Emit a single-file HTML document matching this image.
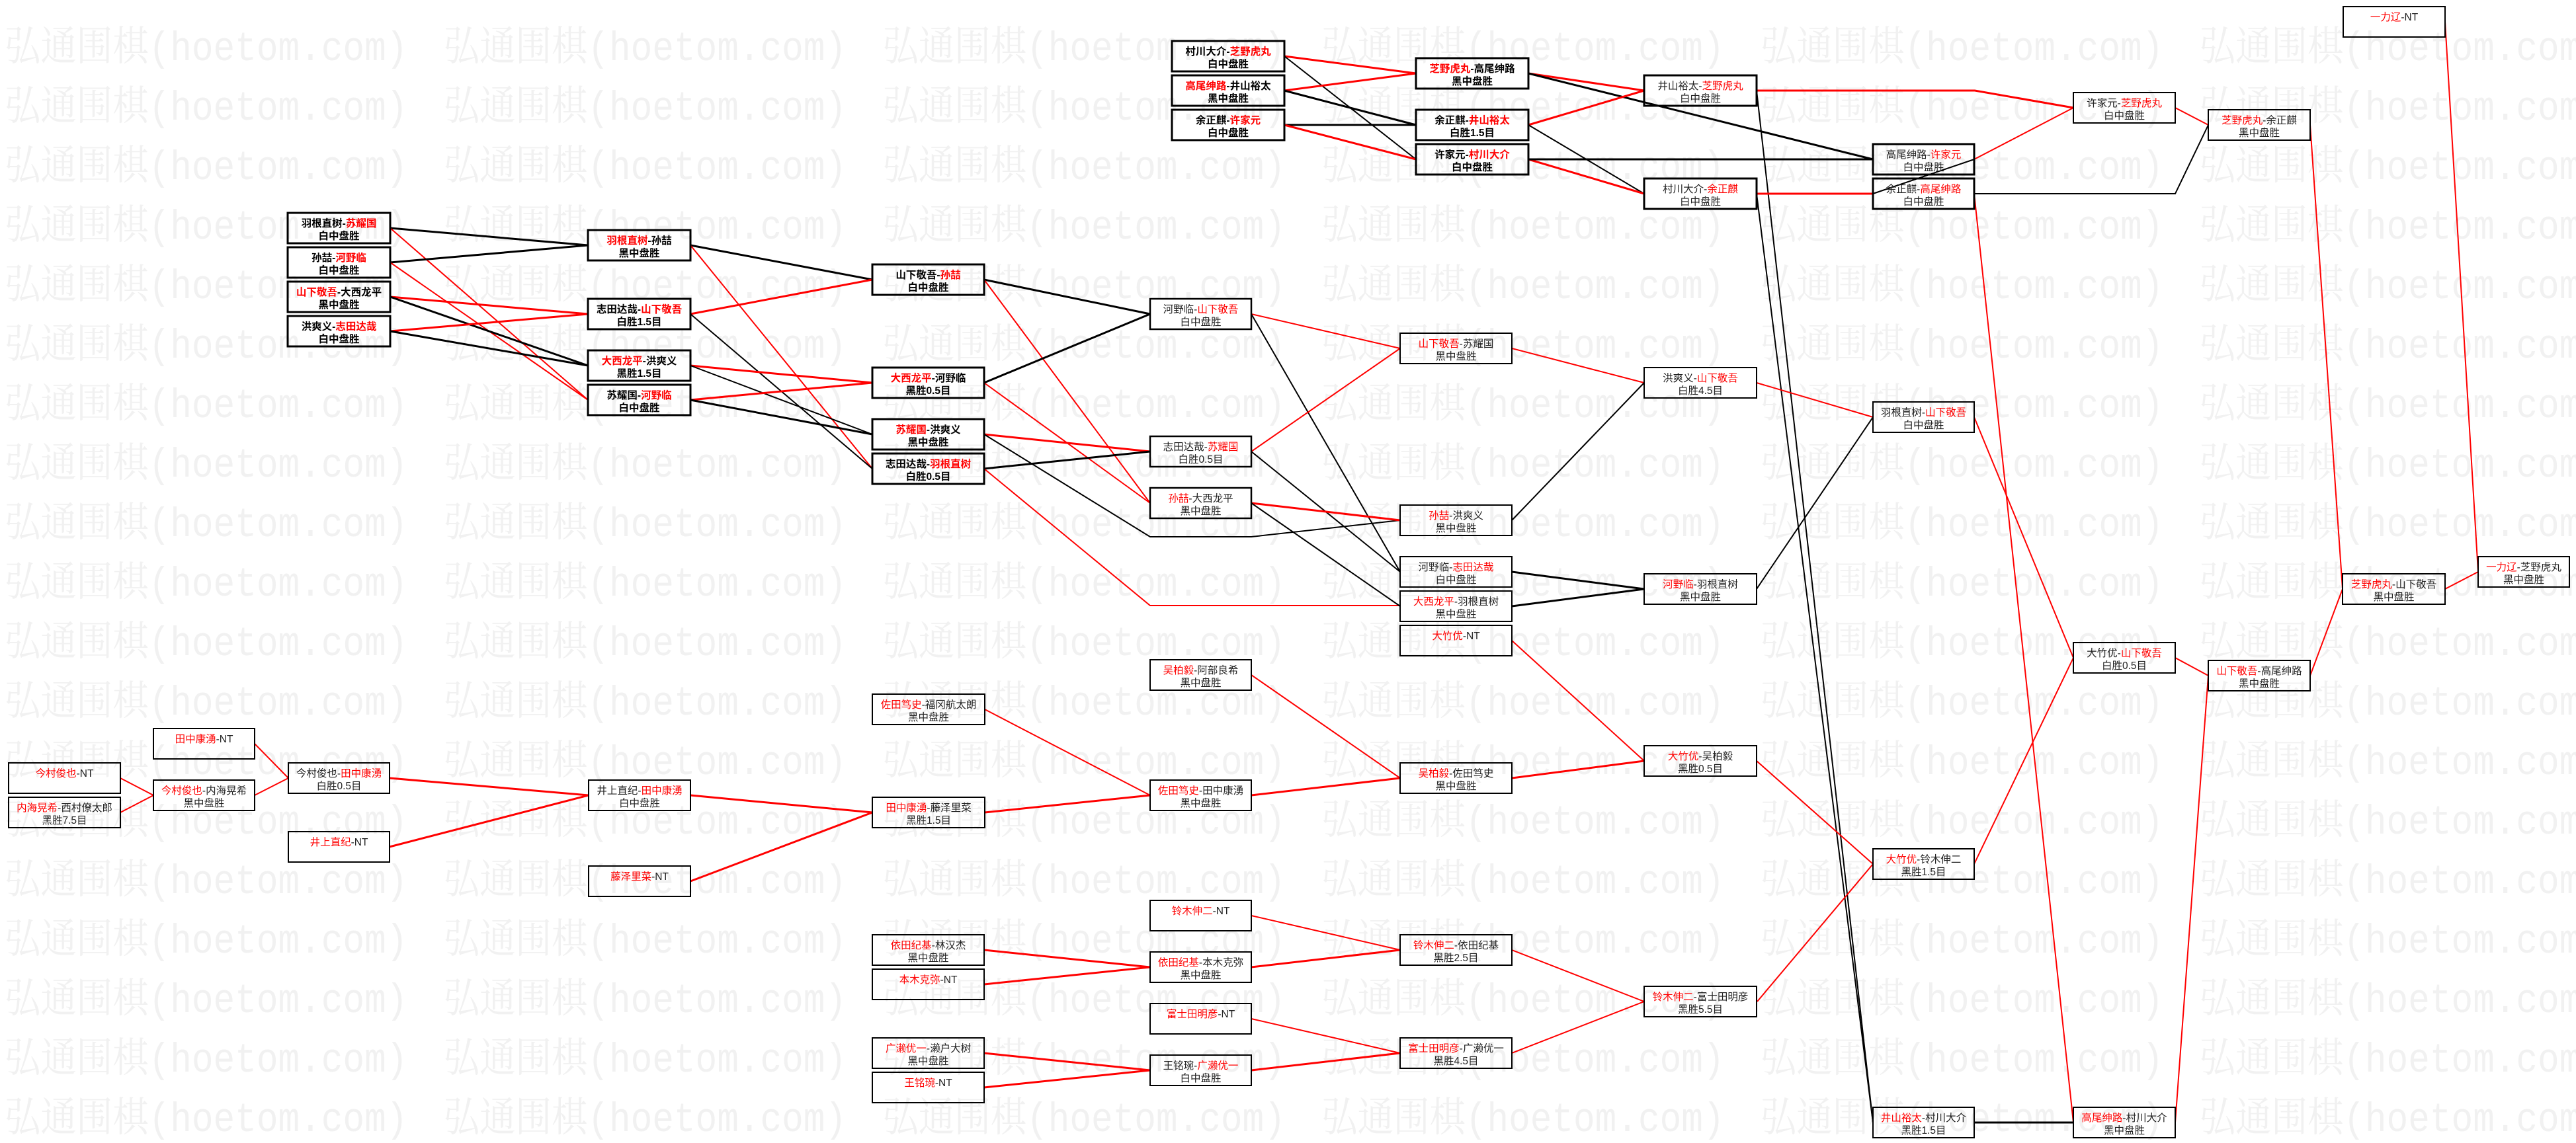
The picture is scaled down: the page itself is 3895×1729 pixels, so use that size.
<!DOCTYPE html>
<html><head><meta charset="utf-8"><style>
html,body{margin:0;padding:0;background:#fff;}
svg{display:block;}
.wm{font-family:"Liberation Mono","Noto Serif CJK SC",serif;font-size:62px;fill:#f1f1f1;}
.k{fill:none;stroke:#000;stroke-width:3;}
.n{fill:none;stroke:#000;stroke-width:2;}
.m{fill:none;stroke:#000;stroke-width:2.5;}
text.t{font-family:"Liberation Sans","Noto Sans CJK SC",sans-serif;font-size:15.5px;text-anchor:middle;fill:#222;}
text.b{font-weight:bold;fill:#000;}
.r{fill:#f00;}
.lr{fill:none;stroke:#f00;}
.lb{fill:none;stroke:#000;}
.w3{stroke-width:3;}
.w2{stroke-width:2;}
</style></head><body>
<svg width="3895" height="1729" viewBox="0 0 3895 1729" xmlns="http://www.w3.org/2000/svg">
<rect x="0" y="0" width="3895" height="1729" fill="#fff"/>
<g class="wm">
<text x="7" y="91" textLength="3928" lengthAdjust="spacingAndGlyphs">弘通围棋(hoetom.com)　弘通围棋(hoetom.com)　弘通围棋(hoetom.com)　弘通围棋(hoetom.com)　弘通围棋(hoetom.com)　弘通围棋(hoetom.com)</text>
<text x="7" y="181" textLength="3928" lengthAdjust="spacingAndGlyphs">弘通围棋(hoetom.com)　弘通围棋(hoetom.com)　弘通围棋(hoetom.com)　弘通围棋(hoetom.com)　弘通围棋(hoetom.com)　弘通围棋(hoetom.com)</text>
<text x="7" y="271" textLength="3928" lengthAdjust="spacingAndGlyphs">弘通围棋(hoetom.com)　弘通围棋(hoetom.com)　弘通围棋(hoetom.com)　弘通围棋(hoetom.com)　弘通围棋(hoetom.com)　弘通围棋(hoetom.com)</text>
<text x="7" y="361" textLength="3928" lengthAdjust="spacingAndGlyphs">弘通围棋(hoetom.com)　弘通围棋(hoetom.com)　弘通围棋(hoetom.com)　弘通围棋(hoetom.com)　弘通围棋(hoetom.com)　弘通围棋(hoetom.com)</text>
<text x="7" y="451" textLength="3928" lengthAdjust="spacingAndGlyphs">弘通围棋(hoetom.com)　弘通围棋(hoetom.com)　弘通围棋(hoetom.com)　弘通围棋(hoetom.com)　弘通围棋(hoetom.com)　弘通围棋(hoetom.com)</text>
<text x="7" y="541" textLength="3928" lengthAdjust="spacingAndGlyphs">弘通围棋(hoetom.com)　弘通围棋(hoetom.com)　弘通围棋(hoetom.com)　弘通围棋(hoetom.com)　弘通围棋(hoetom.com)　弘通围棋(hoetom.com)</text>
<text x="7" y="631" textLength="3928" lengthAdjust="spacingAndGlyphs">弘通围棋(hoetom.com)　弘通围棋(hoetom.com)　弘通围棋(hoetom.com)　弘通围棋(hoetom.com)　弘通围棋(hoetom.com)　弘通围棋(hoetom.com)</text>
<text x="7" y="721" textLength="3928" lengthAdjust="spacingAndGlyphs">弘通围棋(hoetom.com)　弘通围棋(hoetom.com)　弘通围棋(hoetom.com)　弘通围棋(hoetom.com)　弘通围棋(hoetom.com)　弘通围棋(hoetom.com)</text>
<text x="7" y="811" textLength="3928" lengthAdjust="spacingAndGlyphs">弘通围棋(hoetom.com)　弘通围棋(hoetom.com)　弘通围棋(hoetom.com)　弘通围棋(hoetom.com)　弘通围棋(hoetom.com)　弘通围棋(hoetom.com)</text>
<text x="7" y="901" textLength="3928" lengthAdjust="spacingAndGlyphs">弘通围棋(hoetom.com)　弘通围棋(hoetom.com)　弘通围棋(hoetom.com)　弘通围棋(hoetom.com)　弘通围棋(hoetom.com)　弘通围棋(hoetom.com)</text>
<text x="7" y="991" textLength="3928" lengthAdjust="spacingAndGlyphs">弘通围棋(hoetom.com)　弘通围棋(hoetom.com)　弘通围棋(hoetom.com)　弘通围棋(hoetom.com)　弘通围棋(hoetom.com)　弘通围棋(hoetom.com)</text>
<text x="7" y="1081" textLength="3928" lengthAdjust="spacingAndGlyphs">弘通围棋(hoetom.com)　弘通围棋(hoetom.com)　弘通围棋(hoetom.com)　弘通围棋(hoetom.com)　弘通围棋(hoetom.com)　弘通围棋(hoetom.com)</text>
<text x="7" y="1171" textLength="3928" lengthAdjust="spacingAndGlyphs">弘通围棋(hoetom.com)　弘通围棋(hoetom.com)　弘通围棋(hoetom.com)　弘通围棋(hoetom.com)　弘通围棋(hoetom.com)　弘通围棋(hoetom.com)</text>
<text x="7" y="1261" textLength="3928" lengthAdjust="spacingAndGlyphs">弘通围棋(hoetom.com)　弘通围棋(hoetom.com)　弘通围棋(hoetom.com)　弘通围棋(hoetom.com)　弘通围棋(hoetom.com)　弘通围棋(hoetom.com)</text>
<text x="7" y="1351" textLength="3928" lengthAdjust="spacingAndGlyphs">弘通围棋(hoetom.com)　弘通围棋(hoetom.com)　弘通围棋(hoetom.com)　弘通围棋(hoetom.com)　弘通围棋(hoetom.com)　弘通围棋(hoetom.com)</text>
<text x="7" y="1441" textLength="3928" lengthAdjust="spacingAndGlyphs">弘通围棋(hoetom.com)　弘通围棋(hoetom.com)　弘通围棋(hoetom.com)　弘通围棋(hoetom.com)　弘通围棋(hoetom.com)　弘通围棋(hoetom.com)</text>
<text x="7" y="1531" textLength="3928" lengthAdjust="spacingAndGlyphs">弘通围棋(hoetom.com)　弘通围棋(hoetom.com)　弘通围棋(hoetom.com)　弘通围棋(hoetom.com)　弘通围棋(hoetom.com)　弘通围棋(hoetom.com)</text>
<text x="7" y="1621" textLength="3928" lengthAdjust="spacingAndGlyphs">弘通围棋(hoetom.com)　弘通围棋(hoetom.com)　弘通围棋(hoetom.com)　弘通围棋(hoetom.com)　弘通围棋(hoetom.com)　弘通围棋(hoetom.com)</text>
<text x="7" y="1711" textLength="3928" lengthAdjust="spacingAndGlyphs">弘通围棋(hoetom.com)　弘通围棋(hoetom.com)　弘通围棋(hoetom.com)　弘通围棋(hoetom.com)　弘通围棋(hoetom.com)　弘通围棋(hoetom.com)</text>
</g>

<!-- connectors -->
<g>
<polyline class="lr w3" points="1942,85 2141,111"/>
<polyline class="lb w2" points="1942,85 2141,241"/>
<polyline class="lr w3" points="1942,137 2141,111"/>
<polyline class="lb w3" points="1942,137 2141,189"/>
<polyline class="lb w3" points="1942,189 2141,189"/>
<polyline class="lr w3" points="1942,189 2141,241"/>
<polyline class="lr w3" points="2311,111 2486,137"/>
<polyline class="lb w3" points="2311,111 2832,241"/>
<polyline class="lr w3" points="2311,189 2486,137"/>
<polyline class="lb w2" points="2311,189 2486,293"/>
<polyline class="lr w3" points="2311,241 2486,293"/>
<polyline class="lb w3" points="2311,241 2832,241"/>
<polyline class="lr w3" points="2656,137 2986,137 3135,163"/>
<polyline class="lb w2" points="2656,137 2832,1698"/>
<polyline class="lr w3" points="2656,293 2832,293"/>
<polyline class="lb w2" points="2656,293 2832,1698"/>
<polyline class="lr w2" points="2985,241 3135,163"/>
<polyline class="lb w2" points="2985,241 2832,293"/>
<polyline class="lr w2" points="2985,293 3135,1698"/>
<polyline class="lb w2" points="2985,293 3289,293 3339,189"/>
<polyline class="lr w2" points="3289,163 3339,189"/>
<polyline class="lr w2" points="3493,189 3542,891"/>
<polyline class="lr w2" points="3697,33 3747,865"/>
<polyline class="lr w2" points="3697,891 3747,865"/>
<polyline class="lb w3" points="590,345 889,371"/>
<polyline class="lr w2" points="590,345 889,605"/>
<polyline class="lb w3" points="590,397 889,371"/>
<polyline class="lr w2" points="590,397 889,605"/>
<polyline class="lr w3" points="590,449 889,475"/>
<polyline class="lb w3" points="590,449 889,553"/>
<polyline class="lr w3" points="590,501 889,475"/>
<polyline class="lb w3" points="590,501 889,553"/>
<polyline class="lb w3" points="1044,371 1319,423"/>
<polyline class="lr w2" points="1044,371 1319,709"/>
<polyline class="lr w3" points="1044,475 1319,423"/>
<polyline class="lb w2" points="1044,475 1319,709"/>
<polyline class="lr w3" points="1044,553 1319,579"/>
<polyline class="lb w2" points="1044,553 1319,657"/>
<polyline class="lr w3" points="1044,605 1319,579"/>
<polyline class="lb w3" points="1044,605 1319,657"/>
<polyline class="lb w3" points="1488,423 1739,475"/>
<polyline class="lr w2" points="1488,423 1739,761"/>
<polyline class="lb w3" points="1488,579 1739,475"/>
<polyline class="lr w2" points="1488,579 1739,761"/>
<polyline class="lr w3" points="1488,657 1739,683"/>
<polyline class="lb w2" points="1488,657 1739,812 1892,812 2117,787"/>
<polyline class="lb w3" points="1488,709 1739,683"/>
<polyline class="lr w2" points="1488,709 1739,916 2117,916"/>
<polyline class="lr w2" points="1892,475 2117,527"/>
<polyline class="lb w2" points="1892,475 2117,865"/>
<polyline class="lr w2" points="1892,683 2117,527"/>
<polyline class="lb w2" points="1892,683 2117,865"/>
<polyline class="lr w3" points="1892,761 2117,787"/>
<polyline class="lb w2" points="1892,761 2117,917"/>
<polyline class="lr w2" points="2286,527 2486,579"/>
<polyline class="lb w2" points="2286,787 2486,579"/>
<polyline class="lb w3" points="2286,865 2486,891"/>
<polyline class="lb w3" points="2286,917 2486,891"/>
<polyline class="lr w2" points="2286,969 2486,1151"/>
<polyline class="lr w2" points="2656,579 2832,631"/>
<polyline class="lb w2" points="2656,891 2832,631"/>
<polyline class="lr w2" points="2985,631 3135,995"/>
<polyline class="lr w2" points="2985,1307 3135,995"/>
<polyline class="lr w2" points="3289,995 3339,1022"/>
<polyline class="lr w2" points="3289,1698 3339,1022"/>
<polyline class="lb w3" points="2985,1698 3135,1698"/>
<polyline class="lr w2" points="3493,1022 3542,891"/>
<polyline class="lr w2" points="182,1177 232,1203"/>
<polyline class="lr w2" points="182,1229 232,1203"/>
<polyline class="lr w2" points="385,1125 436,1177"/>
<polyline class="lr w2" points="385,1203 436,1177"/>
<polyline class="lr w3" points="589,1177 890,1203"/>
<polyline class="lr w3" points="589,1281 890,1203"/>
<polyline class="lr w3" points="1044,1203 1319,1229"/>
<polyline class="lr w3" points="1044,1333 1319,1229"/>
<polyline class="lr w2" points="1489,1073 1739,1203"/>
<polyline class="lr w3" points="1489,1229 1739,1203"/>
<polyline class="lr w2" points="1892,1021 2117,1177"/>
<polyline class="lr w3" points="1892,1203 2117,1177"/>
<polyline class="lr w3" points="2286,1177 2486,1151"/>
<polyline class="lr w2" points="2656,1151 2832,1307"/>
<polyline class="lr w2" points="1892,1385 2117,1437"/>
<polyline class="lr w3" points="1488,1437 1739,1463"/>
<polyline class="lr w3" points="1488,1489 1739,1463"/>
<polyline class="lr w3" points="1892,1463 2117,1437"/>
<polyline class="lr w2" points="1892,1541 2117,1593"/>
<polyline class="lr w3" points="1488,1593 1739,1619"/>
<polyline class="lr w3" points="1488,1645 1739,1619"/>
<polyline class="lr w3" points="1892,1619 2117,1593"/>
<polyline class="lr w2" points="2286,1437 2486,1515"/>
<polyline class="lr w2" points="2286,1593 2486,1515"/>
<polyline class="lr w2" points="2657,1515 2832,1307"/>
</g>

<!-- boxes -->
<g>
<rect class="k" x="1772" y="62" width="170" height="46"/>
<text class="t b" x="1857" y="83">村川大介-<tspan class="r">芝野虎丸</tspan></text><text class="t b" x="1857" y="102">白中盘胜</text>
<rect class="k" x="1772" y="114" width="170" height="46"/>
<text class="t b" x="1857" y="135"><tspan class="r">高尾绅路</tspan>-井山裕太</text><text class="t b" x="1857" y="154">黑中盘胜</text>
<rect class="k" x="1772" y="166" width="170" height="46"/>
<text class="t b" x="1857" y="187">余正麒-<tspan class="r">许家元</tspan></text><text class="t b" x="1857" y="206">白中盘胜</text>
<rect class="k" x="2141" y="88" width="170" height="46"/>
<text class="t b" x="2226" y="109"><tspan class="r">芝野虎丸</tspan>-高尾绅路</text><text class="t b" x="2226" y="128">黑中盘胜</text>
<rect class="k" x="2141" y="166" width="170" height="46"/>
<text class="t b" x="2226" y="187">余正麒-<tspan class="r">井山裕太</tspan></text><text class="t b" x="2226" y="206">白胜1.5目</text>
<rect class="k" x="2141" y="218" width="170" height="46"/>
<text class="t b" x="2226" y="239">许家元-<tspan class="r">村川大介</tspan></text><text class="t b" x="2226" y="258">白中盘胜</text>
<rect class="k" x="2486" y="114" width="170" height="46"/>
<text class="t" x="2571" y="135">井山裕太-<tspan class="r">芝野虎丸</tspan></text><text class="t" x="2571" y="154">白中盘胜</text>
<rect class="k" x="2486" y="270" width="170" height="46"/>
<text class="t" x="2571" y="291">村川大介-<tspan class="r">余正麒</tspan></text><text class="t" x="2571" y="310">白中盘胜</text>
<rect class="k" x="2832" y="218" width="153" height="46"/>
<text class="t" x="2908.5" y="239">高尾绅路-<tspan class="r">许家元</tspan></text><text class="t" x="2908.5" y="258">白中盘胜</text>
<rect class="k" x="2832" y="270" width="153" height="46"/>
<text class="t" x="2908.5" y="291">余正麒-<tspan class="r">高尾绅路</tspan></text><text class="t" x="2908.5" y="310">白中盘胜</text>
<rect class="n" x="3135" y="140" width="154" height="46"/>
<text class="t" x="3212" y="161">许家元-<tspan class="r">芝野虎丸</tspan></text><text class="t" x="3212" y="180">白中盘胜</text>
<rect class="n" x="3339" y="166" width="154" height="46"/>
<text class="t" x="3416" y="187"><tspan class="r">芝野虎丸</tspan>-余正麒</text><text class="t" x="3416" y="206">黑中盘胜</text>
<rect class="n" x="3543" y="10" width="154" height="46"/>
<text class="t" x="3620" y="31"><tspan class="r">一力辽</tspan>-NT</text>

<rect class="k" x="435" y="322" width="155" height="46"/>
<text class="t b" x="512.5" y="343">羽根直树-<tspan class="r">苏耀国</tspan></text><text class="t b" x="512.5" y="362">白中盘胜</text>
<rect class="k" x="435" y="374" width="155" height="46"/>
<text class="t b" x="512.5" y="395">孙喆-<tspan class="r">河野临</tspan></text><text class="t b" x="512.5" y="414">白中盘胜</text>
<rect class="k" x="435" y="426" width="155" height="46"/>
<text class="t b" x="512.5" y="447"><tspan class="r">山下敬吾</tspan>-大西龙平</text><text class="t b" x="512.5" y="466">黑中盘胜</text>
<rect class="k" x="435" y="478" width="155" height="46"/>
<text class="t b" x="512.5" y="499">洪爽义-<tspan class="r">志田达哉</tspan></text><text class="t b" x="512.5" y="518">白中盘胜</text>
<rect class="k" x="889" y="348" width="155" height="46"/>
<text class="t b" x="966.5" y="369"><tspan class="r">羽根直树</tspan>-孙喆</text><text class="t b" x="966.5" y="388">黑中盘胜</text>
<rect class="k" x="889" y="452" width="155" height="46"/>
<text class="t b" x="966.5" y="473">志田达哉-<tspan class="r">山下敬吾</tspan></text><text class="t b" x="966.5" y="492">白胜1.5目</text>
<rect class="k" x="889" y="530" width="155" height="46"/>
<text class="t b" x="966.5" y="551"><tspan class="r">大西龙平</tspan>-洪爽义</text><text class="t b" x="966.5" y="570">黑胜1.5目</text>
<rect class="k" x="889" y="582" width="155" height="46"/>
<text class="t b" x="966.5" y="603">苏耀国-<tspan class="r">河野临</tspan></text><text class="t b" x="966.5" y="622">白中盘胜</text>
<rect class="k" x="1319" y="400" width="169" height="46"/>
<text class="t b" x="1403.5" y="421">山下敬吾-<tspan class="r">孙喆</tspan></text><text class="t b" x="1403.5" y="440">白中盘胜</text>
<rect class="k" x="1319" y="556" width="169" height="46"/>
<text class="t b" x="1403.5" y="577"><tspan class="r">大西龙平</tspan>-河野临</text><text class="t b" x="1403.5" y="596">黑胜0.5目</text>
<rect class="k" x="1319" y="634" width="169" height="46"/>
<text class="t b" x="1403.5" y="655"><tspan class="r">苏耀国</tspan>-洪爽义</text><text class="t b" x="1403.5" y="674">黑中盘胜</text>
<rect class="k" x="1319" y="686" width="169" height="46"/>
<text class="t b" x="1403.5" y="707">志田达哉-<tspan class="r">羽根直树</tspan></text><text class="t b" x="1403.5" y="726">白胜0.5目</text>

<rect class="m" x="1739" y="452" width="153" height="46"/>
<text class="t" x="1815.5" y="473">河野临-<tspan class="r">山下敬吾</tspan></text><text class="t" x="1815.5" y="492">白中盘胜</text>
<rect class="m" x="1739" y="660" width="153" height="46"/>
<text class="t" x="1815.5" y="681">志田达哉-<tspan class="r">苏耀国</tspan></text><text class="t" x="1815.5" y="700">白胜0.5目</text>
<rect class="m" x="1739" y="738" width="153" height="46"/>
<text class="t" x="1815.5" y="759"><tspan class="r">孙喆</tspan>-大西龙平</text><text class="t" x="1815.5" y="778">黑中盘胜</text>
<rect class="n" x="2117" y="504" width="169" height="46"/>
<text class="t" x="2201.5" y="525"><tspan class="r">山下敬吾</tspan>-苏耀国</text><text class="t" x="2201.5" y="544">黑中盘胜</text>
<rect class="n" x="2117" y="764" width="169" height="46"/>
<text class="t" x="2201.5" y="785"><tspan class="r">孙喆</tspan>-洪爽义</text><text class="t" x="2201.5" y="804">黑中盘胜</text>
<rect class="n" x="2117" y="842" width="169" height="46"/>
<text class="t" x="2201.5" y="863">河野临-<tspan class="r">志田达哉</tspan></text><text class="t" x="2201.5" y="882">白中盘胜</text>
<rect class="n" x="2117" y="894" width="169" height="46"/>
<text class="t" x="2201.5" y="915"><tspan class="r">大西龙平</tspan>-羽根直树</text><text class="t" x="2201.5" y="934">黑中盘胜</text>
<rect class="n" x="2117" y="946" width="169" height="46"/>
<text class="t" x="2201.5" y="967"><tspan class="r">大竹优</tspan>-NT</text>
<rect class="n" x="2486" y="556" width="170" height="46"/>
<text class="t" x="2571" y="577">洪爽义-<tspan class="r">山下敬吾</tspan></text><text class="t" x="2571" y="596">白胜4.5目</text>
<rect class="n" x="2486" y="868" width="170" height="46"/>
<text class="t" x="2571" y="889"><tspan class="r">河野临</tspan>-羽根直树</text><text class="t" x="2571" y="908">黑中盘胜</text>
<rect class="n" x="2832" y="608" width="153" height="46"/>
<text class="t" x="2908.5" y="629">羽根直树-<tspan class="r">山下敬吾</tspan></text><text class="t" x="2908.5" y="648">白中盘胜</text>
<rect class="n" x="3135" y="972" width="154" height="46"/>
<text class="t" x="3212" y="993">大竹优-<tspan class="r">山下敬吾</tspan></text><text class="t" x="3212" y="1012">白胜0.5目</text>
<rect class="n" x="3339" y="999" width="154" height="46"/>
<text class="t" x="3416" y="1020"><tspan class="r">山下敬吾</tspan>-高尾绅路</text><text class="t" x="3416" y="1039">黑中盘胜</text>
<rect class="n" x="3542" y="868" width="155" height="46"/>
<text class="t" x="3619.5" y="889"><tspan class="r">芝野虎丸</tspan>-山下敬吾</text><text class="t" x="3619.5" y="908">黑中盘胜</text>
<rect class="n" x="3747" y="842" width="138" height="46"/>
<text class="t" x="3816" y="863"><tspan class="r">一力辽</tspan>-芝野虎丸</text><text class="t" x="3816" y="882">黑中盘胜</text>

<rect class="n" x="1739" y="998" width="153" height="46"/>
<text class="t" x="1815.5" y="1019"><tspan class="r">吴柏毅</tspan>-阿部良希</text><text class="t" x="1815.5" y="1038">黑中盘胜</text>
<rect class="n" x="1319" y="1050" width="170" height="46"/>
<text class="t" x="1404" y="1071"><tspan class="r">佐田笃史</tspan>-福冈航太朗</text><text class="t" x="1404" y="1090">黑中盘胜</text>
<rect class="n" x="1319" y="1206" width="170" height="46"/>
<text class="t" x="1404" y="1227"><tspan class="r">田中康湧</tspan>-藤泽里菜</text><text class="t" x="1404" y="1246">黑胜1.5目</text>
<rect class="n" x="1739" y="1180" width="153" height="46"/>
<text class="t" x="1815.5" y="1201"><tspan class="r">佐田笃史</tspan>-田中康湧</text><text class="t" x="1815.5" y="1220">黑中盘胜</text>
<rect class="n" x="2117" y="1154" width="169" height="46"/>
<text class="t" x="2201.5" y="1175"><tspan class="r">吴柏毅</tspan>-佐田笃史</text><text class="t" x="2201.5" y="1194">黑中盘胜</text>
<rect class="n" x="2486" y="1128" width="170" height="46"/>
<text class="t" x="2571" y="1149"><tspan class="r">大竹优</tspan>-吴柏毅</text><text class="t" x="2571" y="1168">黑胜0.5目</text>
<rect class="n" x="2832" y="1284" width="153" height="46"/>
<text class="t" x="2908.5" y="1305"><tspan class="r">大竹优</tspan>-铃木伸二</text><text class="t" x="2908.5" y="1324">黑胜1.5目</text>
<rect class="n" x="232" y="1102" width="153" height="46"/>
<text class="t" x="308.5" y="1123"><tspan class="r">田中康湧</tspan>-NT</text>
<rect class="n" x="13" y="1154" width="169" height="46"/>
<text class="t" x="97.5" y="1175"><tspan class="r">今村俊也</tspan>-NT</text>
<rect class="n" x="13" y="1206" width="169" height="46"/>
<text class="t" x="97.5" y="1227"><tspan class="r">内海晃希</tspan>-西村僚太郎</text><text class="t" x="97.5" y="1246">黑胜7.5目</text>
<rect class="n" x="232" y="1180" width="153" height="46"/>
<text class="t" x="308.5" y="1201"><tspan class="r">今村俊也</tspan>-内海晃希</text><text class="t" x="308.5" y="1220">黑中盘胜</text>
<rect class="n" x="436" y="1154" width="153" height="46"/>
<text class="t" x="512.5" y="1175">今村俊也-<tspan class="r">田中康湧</tspan></text><text class="t" x="512.5" y="1194">白胜0.5目</text>
<rect class="n" x="436" y="1258" width="153" height="46"/>
<text class="t" x="512.5" y="1279"><tspan class="r">井上直纪</tspan>-NT</text>
<rect class="n" x="890" y="1180" width="154" height="46"/>
<text class="t" x="967" y="1201">井上直纪-<tspan class="r">田中康湧</tspan></text><text class="t" x="967" y="1220">白中盘胜</text>
<rect class="n" x="890" y="1310" width="154" height="46"/>
<text class="t" x="967" y="1331"><tspan class="r">藤泽里菜</tspan>-NT</text>
<rect class="n" x="1739" y="1362" width="153" height="46"/>
<text class="t" x="1815.5" y="1383"><tspan class="r">铃木伸二</tspan>-NT</text>
<rect class="n" x="1319" y="1414" width="169" height="46"/>
<text class="t" x="1403.5" y="1435"><tspan class="r">依田纪基</tspan>-林汉杰</text><text class="t" x="1403.5" y="1454">黑中盘胜</text>
<rect class="n" x="1319" y="1466" width="169" height="46"/>
<text class="t" x="1403.5" y="1487"><tspan class="r">本木克弥</tspan>-NT</text>
<rect class="n" x="1739" y="1440" width="153" height="46"/>
<text class="t" x="1815.5" y="1461"><tspan class="r">依田纪基</tspan>-本木克弥</text><text class="t" x="1815.5" y="1480">黑中盘胜</text>
<rect class="n" x="2117" y="1414" width="169" height="46"/>
<text class="t" x="2201.5" y="1435"><tspan class="r">铃木伸二</tspan>-依田纪基</text><text class="t" x="2201.5" y="1454">黑胜2.5目</text>
<rect class="n" x="1739" y="1518" width="153" height="46"/>
<text class="t" x="1815.5" y="1539"><tspan class="r">富士田明彦</tspan>-NT</text>
<rect class="n" x="1319" y="1570" width="169" height="46"/>
<text class="t" x="1403.5" y="1591"><tspan class="r">广濑优一</tspan>-濑户大树</text><text class="t" x="1403.5" y="1610">黑中盘胜</text>
<rect class="n" x="1319" y="1622" width="169" height="46"/>
<text class="t" x="1403.5" y="1643"><tspan class="r">王铭琬</tspan>-NT</text>
<rect class="n" x="1739" y="1596" width="153" height="46"/>
<text class="t" x="1815.5" y="1617">王铭琬-<tspan class="r">广濑优一</tspan></text><text class="t" x="1815.5" y="1636">白中盘胜</text>
<rect class="n" x="2117" y="1570" width="169" height="46"/>
<text class="t" x="2201.5" y="1591"><tspan class="r">富士田明彦</tspan>-广濑优一</text><text class="t" x="2201.5" y="1610">黑胜4.5目</text>
<rect class="n" x="2486" y="1492" width="170" height="46"/>
<text class="t" x="2571" y="1513"><tspan class="r">铃木伸二</tspan>-富士田明彦</text><text class="t" x="2571" y="1532">黑胜5.5目</text>
<rect class="n" x="2832" y="1675" width="153" height="46"/>
<text class="t" x="2908.5" y="1696"><tspan class="r">井山裕太</tspan>-村川大介</text><text class="t" x="2908.5" y="1715">黑胜1.5目</text>
<rect class="n" x="3135" y="1675" width="154" height="46"/>
<text class="t" x="3212" y="1696"><tspan class="r">高尾绅路</tspan>-村川大介</text><text class="t" x="3212" y="1715">黑中盘胜</text>
</g>
</svg>
</body></html>
